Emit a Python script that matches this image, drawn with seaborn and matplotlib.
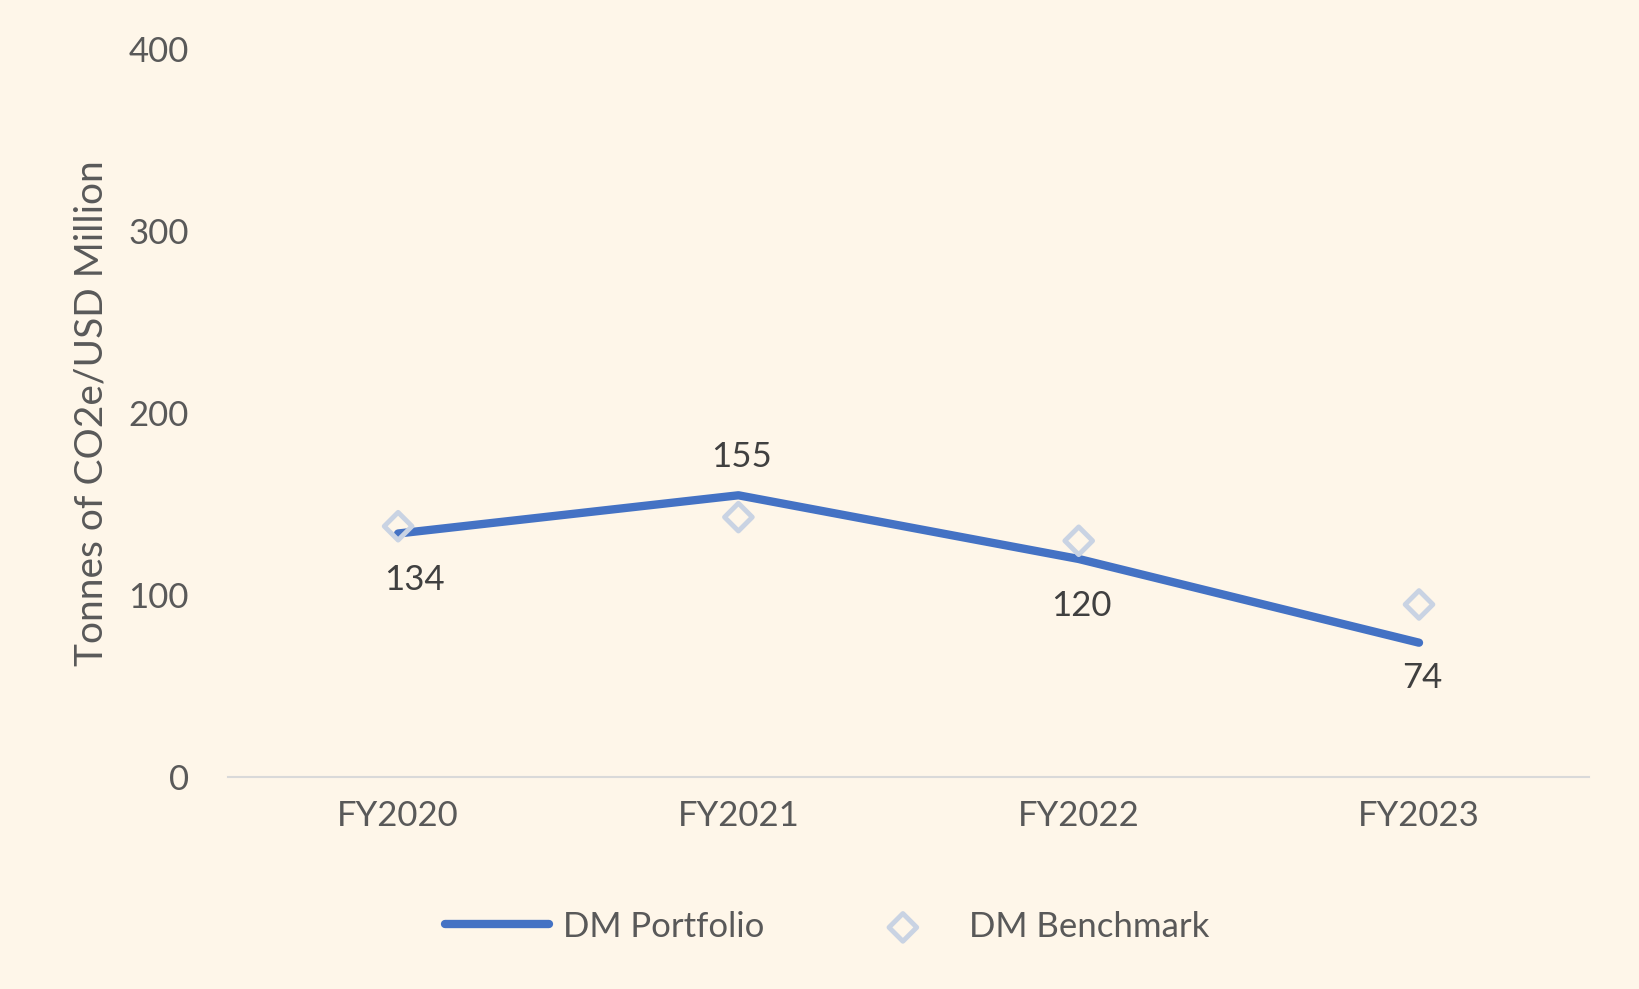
import matplotlib
matplotlib.use("Agg")
import matplotlib.pyplot as plt
import seaborn as sns
import pandas as pd

years = ["FY2020", "FY2021", "FY2022", "FY2023"]
portfolio = [134, 155, 120, 74]
benchmark = [138, 143, 130, 95]

BG = "#FEF6E9"
GREY = "#595959"

sns.set_theme(style="white")
plt.rcParams['font.family'] = ['Lato', 'DejaVu Sans']

df = pd.DataFrame({"year": years, "x": range(len(years)),
                   "portfolio": portfolio, "benchmark": benchmark})

fig = plt.figure(figsize=(16.4, 9.89), dpi=100, facecolor=BG)
ax = fig.add_axes([0.139, 0.214, 0.830, 0.736])
ax.set_facecolor(BG)

sns.lineplot(data=df, x="x", y="portfolio", ax=ax, color="#4472C4",
             linewidth=6, label="DM Portfolio")
sns.scatterplot(data=df, x="x", y="benchmark", ax=ax, marker="D", s=200,
                facecolor="none", edgecolor="#C9D3E3", linewidth=3.5,
                label="DM Benchmark", zorder=3)

offsets = [-22, 16, -22, -14]
for xi, v, off in zip(df["x"], portfolio, offsets):
    ax.annotate(str(v), (xi, v), xytext=(12 if xi == 0 else 2, off),
                textcoords="offset points", ha="center",
                va="bottom" if off > 0 else "top", fontsize=25, color="#404040")

ax.set_xlim(-0.5, 3.5)
ax.set_ylim(0, 400)
ax.set_xticks(range(len(years)))
ax.set_xticklabels(years)
ax.set_yticks([0, 100, 200, 300, 400])
ax.tick_params(axis="both", labelsize=25, labelcolor=GREY, length=0, pad=16)
ax.tick_params(axis="y", pad=28)
ax.set_xlabel("")
ax.set_ylabel("Tonnes of CO2e/USD Million", fontsize=28, color=GREY, labelpad=14)
for s in ["top", "right", "left"]:
    ax.spines[s].set_visible(False)
ax.spines["bottom"].set_color("#D9D9D9")
ax.spines["bottom"].set_linewidth(1.5)

ax.legend(loc="upper center", bbox_to_anchor=(0.44, -0.14), ncol=2, frameon=False,
          fontsize=25, labelcolor=GREY, handlelength=3, handletextpad=0.4,
          columnspacing=2.5)

fig.savefig("out.png", dpi=100, facecolor=BG)
